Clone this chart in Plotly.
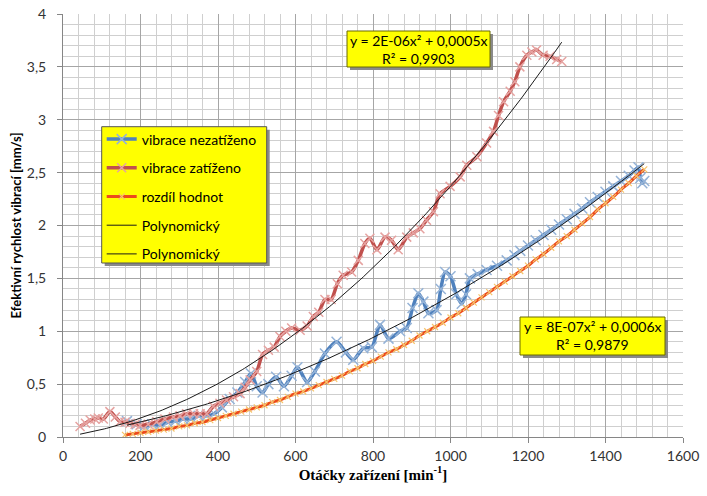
import numpy as np
import plotly.graph_objects as go

# ---- data ----
nez_x = [165, 190, 210, 230, 250, 270, 290, 310, 330, 350,
         370, 390, 410, 430, 450, 470, 485, 500, 515, 530,
         550, 570, 590, 605, 630, 650, 676, 706, 730, 749,
         775, 797, 818, 840, 870, 887, 902, 917, 930, 943,
         964, 975, 986, 1000, 1015, 1029, 1040, 1050, 1070, 1093,
         1120, 1145, 1165, 1180, 1200, 1220, 1240, 1260, 1280, 1300,
         1320, 1340, 1360, 1380, 1400, 1420, 1440, 1460, 1475, 1485,
         1490, 1495, 1500]
nez_y = [0.15, 0.12, 0.10, 0.12, 0.11, 0.14, 0.15, 0.17, 0.17, 0.20,
         0.20, 0.22, 0.28, 0.36, 0.42, 0.52, 0.60, 0.48, 0.42, 0.50,
         0.57, 0.48, 0.58, 0.66, 0.52, 0.62, 0.79, 0.90, 0.80, 0.73,
         0.84, 0.85, 1.06, 0.93, 1.00, 1.03, 1.22, 1.36, 1.28, 1.17,
         1.20, 1.40, 1.56, 1.52, 1.35, 1.26, 1.35, 1.50, 1.54, 1.58,
         1.62, 1.67, 1.72, 1.76, 1.81, 1.86, 1.91, 1.96, 2.01, 2.06,
         2.11, 2.16, 2.22, 2.27, 2.32, 2.37, 2.42, 2.47, 2.52, 2.55,
         2.45, 2.40, 2.42]

zat_x = [44, 58, 70, 82, 91, 104, 121, 135, 147, 160,
         173, 186, 199, 220, 242, 263, 285, 302, 319, 337,
         354, 371, 388, 405, 422, 440, 457, 470, 483, 500,
         515, 530, 545, 560, 575, 590, 612, 630, 646, 660,
         676, 692, 708, 723, 745, 762, 779, 792, 810, 831,
         848, 865, 887, 904, 921, 938, 956, 973, 999, 1025,
         1042, 1068, 1093, 1111, 1124, 1137, 1154, 1166, 1179, 1197,
         1210, 1222, 1239, 1257, 1274, 1287]
zat_y = [0.10, 0.13, 0.16, 0.17, 0.18, 0.17, 0.24, 0.19, 0.145, 0.14,
         0.13, 0.12, 0.11, 0.12, 0.145, 0.17, 0.19, 0.20, 0.22, 0.22,
         0.22, 0.22, 0.29, 0.32, 0.35, 0.38, 0.41, 0.47, 0.54, 0.62,
         0.78, 0.82, 0.85, 0.95, 1.00, 1.03, 1.01, 1.05, 1.14, 1.18,
         1.30, 1.30, 1.45, 1.53, 1.56, 1.67, 1.83, 1.88, 1.77, 1.89,
         1.86, 1.77, 1.89, 1.93, 1.97, 2.05, 2.13, 2.30, 2.37, 2.46,
         2.57, 2.65, 2.78, 2.89, 3.04, 3.17, 3.27, 3.36, 3.50, 3.61,
         3.64, 3.66, 3.61, 3.60, 3.57, 3.55]

roz_x = [160, 180, 200, 220, 240, 260, 280, 300, 320, 340,
         360, 380, 400, 420, 440, 460, 480, 500, 520, 540,
         560, 580, 600, 620, 640, 660, 680, 700, 720, 740,
         760, 780, 800, 820, 840, 860, 880, 900, 920, 940,
         960, 980, 1000, 1020, 1040, 1060, 1080, 1100, 1120, 1140,
         1160, 1180, 1200, 1220, 1240, 1260, 1280, 1300, 1320, 1340,
         1360, 1380, 1400, 1420, 1440, 1460, 1480, 1500]
roz_y = [0.02, 0.03, 0.04, 0.05, 0.06, 0.07, 0.08, 0.10, 0.11, 0.13,
         0.14, 0.16, 0.18, 0.20, 0.22, 0.24, 0.26, 0.28, 0.30, 0.33,
         0.35, 0.38, 0.41, 0.43, 0.46, 0.49, 0.52, 0.55, 0.58, 0.62,
         0.65, 0.69, 0.72, 0.76, 0.80, 0.83, 0.87, 0.91, 0.96, 1.00,
         1.04, 1.08, 1.13, 1.17, 1.22, 1.27, 1.32, 1.37, 1.42, 1.47,
         1.52, 1.57, 1.62, 1.68, 1.73, 1.79, 1.85, 1.90, 1.96, 2.02,
         2.08, 2.15, 2.21, 2.27, 2.34, 2.40, 2.47, 2.53]

# trendline coefficients of "vibrace zatíženo" as drawn in the picture
zat_trend_coef = [1.85e-6, 5.2e-4]

series_names = ["vibrace nezatíženo", "vibrace zatíženo", "rozdíl hodnot",
                "Polynomický", "Polynomický"]
eq_zat = ["y = 2E-06x² + 0,0005x", "R² = 0,9903"]
eq_nez = ["y = 8E-07x² + 0,0006x", "R² = 0,9879"]


def poly_fit(x, y):
    """Excel-like 2nd order polynomial trendline with intercept = 0."""
    x = np.asarray(x, float)
    y = np.asarray(y, float)
    A = np.column_stack([x ** 2, x])
    (a, b), *_ = np.linalg.lstsq(A, y, rcond=None)
    return a, b


def trend_line(x, coef, n=200):
    xs = np.linspace(min(x), max(x), n)
    return xs, coef[0] * xs ** 2 + coef[1] * xs


W, H = 707, 496
L, R, T, B = 63, 24, 14, 59
PW, PH = W - L - R, H - T - B


def px(x, y):
    return (x - L) / PW, (H - B - y) / PH


FONT = "Lato"

fig = go.Figure()
fig.add_trace(go.Scatter(
    x=nez_x, y=nez_y, name=series_names[0], mode="lines+markers",
    line=dict(color="#4f81bd", width=3.5, shape="spline", smoothing=0.7),
    marker=dict(symbol="x-thin", size=10, line=dict(color="#95b3d7", width=1.5)),
    legendgroup="a"))
fig.add_trace(go.Scatter(
    x=zat_x, y=zat_y, name=series_names[1], mode="lines+markers",
    line=dict(color="#c0504d", width=3.5, shape="spline", smoothing=0.7),
    marker=dict(symbol="x-thin", size=9, line=dict(color="#e6a3a1", width=1.5)),
    legendgroup="b"))
fig.add_trace(go.Scatter(
    x=roz_x, y=roz_y, name=series_names[2], mode="lines+markers",
    line=dict(color="#ec4a1c", width=3, shape="spline"),
    marker=dict(symbol="x-thin", size=6, line=dict(color="#f6c46a", width=1.2)),
    legendgroup="c"))
tx, ty = trend_line(nez_x, poly_fit(nez_x, nez_y))
fig.add_trace(go.Scatter(x=tx, y=ty, name=series_names[3], mode="lines",
                         line=dict(color="#1a1a1a", width=1), legendgroup="d"))
tx, ty = trend_line(zat_x, zat_trend_coef)
fig.add_trace(go.Scatter(x=tx, y=ty, name=series_names[4], mode="lines",
                         line=dict(color="#1a1a1a", width=1), legendgroup="e"))

shapes = []
ann = []


def rect(x0, y0, x1, y1, **kw):
    a0 = px(x0, y1)
    a1 = px(x1, y0)
    d = dict(type="rect", xref="paper", yref="paper",
             x0=a0[0], y0=a0[1], x1=a1[0], y1=a1[1], layer="above")
    d.update(kw)
    return d


# legend box (shadow + yellow panel)
shapes.append(rect(104.7, 129.7, 269.7, 266, fillcolor="#8a8a8a", line=dict(width=0)))
shapes.append(rect(101.7, 126.7, 266.7, 263, fillcolor="#ffff00",
                   line=dict(color="#555555", width=1)))

# equation boxes: shadow, yellow box, two text lines
for lines, (x0, y0, x1, y1), ly in [(eq_zat, (347, 31, 490, 67), (40.5, 58)),
                                    (eq_nez, (520, 317, 665, 355), (326, 344))]:
    shapes.append(rect(x0 + 3, y0 + 3, x1 + 3, y1 + 3, fillcolor="#8a8a8a",
                       line=dict(width=0)))
    shapes.append(rect(x0, y0, x1, y1, fillcolor="#ffff00",
                       line=dict(color="#6b6b00", width=1)))
    for txt, yy in zip(lines, ly):
        p = px((x0 + x1) / 2, yy)
        ann.append(dict(xref="paper", yref="paper", x=p[0], y=p[1],
                        xanchor="center", yanchor="middle", showarrow=False,
                        text=txt, font=dict(family=FONT, size=14, color="#000000")))

lg = px(101.7, 123.5)
fig.update_layout(
    width=W, height=H,
    margin=dict(l=L, r=R, t=T, b=B, autoexpand=False),
    paper_bgcolor="white", plot_bgcolor="white",
    separators=", ",
    font=dict(family=FONT, size=14, color="#222222"),
    shapes=shapes, annotations=ann,
    legend=dict(x=lg[0], y=lg[1], xanchor="left", yanchor="top",
                bgcolor="rgba(0,0,0,0)", borderwidth=0,
                font=dict(family=FONT, size=14, color="#000000"),
                tracegroupgap=7.5, traceorder="grouped"),
    showlegend=True,
)
fig.update_xaxes(
    range=[0, 1600], dtick=200, showline=True, linecolor="#868686", linewidth=1,
    ticks="outside", ticklen=5, tickcolor="#868686", ticklabelstandoff=1,
    showgrid=True, gridcolor="#a6a6a6", gridwidth=1, zeroline=False,
    minor=dict(dtick=40, showgrid=True, gridcolor="#cfcfcf", gridwidth=1),
    tickfont=dict(family=FONT, size=14, color="#333333"),
    title=dict(text="<b>Otáčky zařízení [min<sup>-1</sup>]</b>", standoff=6,
               font=dict(family="Liberation Serif", size=15, color="#000000")),
    automargin=False,
)
fig.update_yaxes(
    range=[0, 4], dtick=0.5, showline=True, linecolor="#868686", linewidth=1,
    ticks="outside", ticklen=5, tickcolor="#868686", ticklabelstandoff=8,
    showgrid=True, gridcolor="#a6a6a6", gridwidth=1, zeroline=False,
    minor=dict(dtick=0.1, showgrid=True, gridcolor="#cfcfcf", gridwidth=1),
    tickfont=dict(family=FONT, size=14, color="#333333"),
    title=dict(text="<b>Efektivní rychlost vibrací [mm/s]</b>", standoff=2,
               font=dict(family=FONT, size=13, color="#000000")),
    automargin=False,
)

fig.write_html("out.html", config={"displayModeBar": False},
               post_script="document.body.style.margin='0';"
                           "document.body.style.overflow='hidden';")
